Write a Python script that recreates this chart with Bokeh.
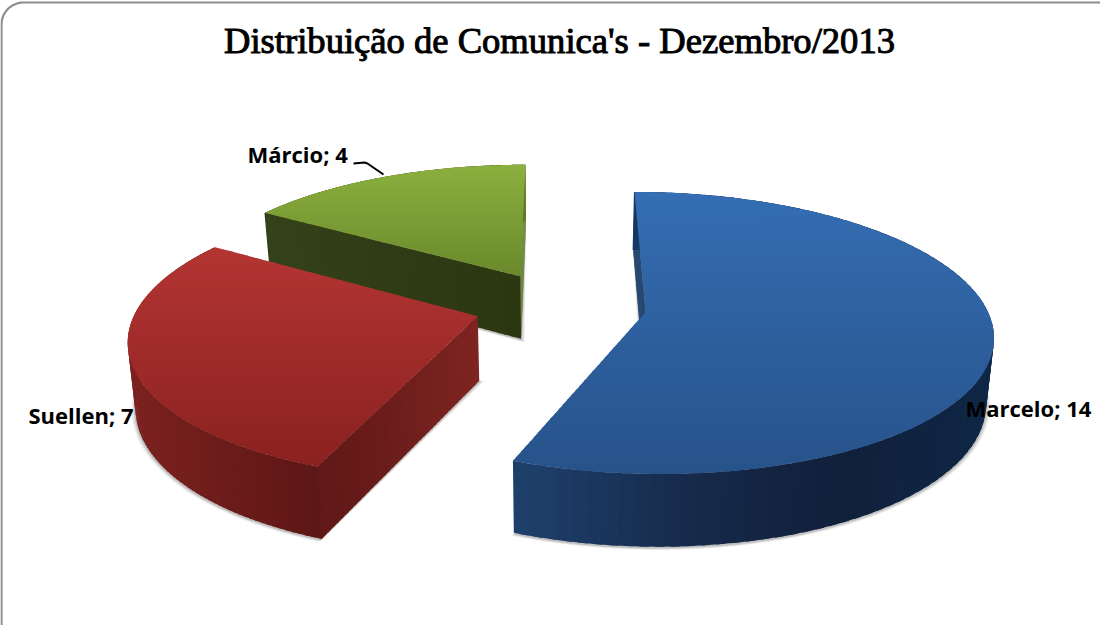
import math
from bokeh.plotting import figure
from bokeh.models import ColumnDataSource, Range1d
from bokeh.core.properties import value
from bokeh.embed import file_html
from bokeh.resources import INLINE

# ---- data ----
categories = ["Marcelo", "Suellen", "Márcio"]
counts = [14, 7, 4]
title_text = "Distribuição de Comunica's - Dezembro/2013"

# ---- style ----
top_colors = [("#346EB3", "#27528A"), ("#B33533", "#8A2120"), ("#8CB03F", "#6A892C")]
rim_stops = [
    [(519, "#1E406C"), (700, "#16294A"), (850, "#10203A"), (1000, "#0F2746")],
    [(135, "#7C211F"), (325, "#5C1716")],
    [(273, "#34411A"), (530, "#2B3710")],
]
# for each slice: which cut faces can be seen, with colours from apex to rim
face_specs = [
    [(0, "#173A66", "#173A66")],
    [(0, "#7E2421", "#5F1917")],
    [(1, "#5E7A2A", "#6E8F30"), (0, "#2B3710", "#34411A")],
]
corner_colors = ["#173A66", "#5E1817", "#34411A"]
label_anchor = [(973, 415), (36, 422), (255, 161)]
leader_x = [361, 372, 375, 391]
leader_y = [171, 170, 171, 182]

# ---- 3-D projection ----
XC, YC = 568, 313
R, EXPL, K, D, H, LOW = 340, 86, 0.40, 2300, 64, 0.982


def proj(u, v, low=False):
    w = 1 - v / D
    f = LOW if low else 1
    y = YC + K * v / w * f + (H / w if low else 0)
    return XC + u / w * f, y


def mix(c1, c2, t):
    t = max(0, min(1, t))
    a = [int(c1[i:i + 2], 16) for i in (1, 3, 5)]
    b = [int(c2[i:i + 2], 16) for i in (1, 3, 5)]
    return "#%02x%02x%02x" % tuple(round(a[i] + (b[i] - a[i]) * t) for i in range(3))


def ramp(stops, x):
    if x <= stops[0][0]:
        return stops[0][1]
    for (x0, c0), (x1, c1) in zip(stops, stops[1:]):
        if x <= x1:
            return mix(c0, c1, (x - x0) / (x1 - x0))
    return stops[-1][1]


def clip(poly, y0, y1):
    def half(pts, keep, yb):
        out = []
        for i, a in enumerate(pts):
            b = pts[(i + 1) % len(pts)]
            if keep(a[1]):
                out.append(a)
            if keep(a[1]) != keep(b[1]):
                t = (yb - a[1]) / (b[1] - a[1])
                out.append((a[0] + (b[0] - a[0]) * t, yb))
        return out
    p = half(poly, lambda y: y >= y0, y0)
    return half(p, lambda y: y <= y1, y1) if p else []


p = figure(width=1100, height=625, x_range=Range1d(8, 1108), y_range=Range1d(633, 8),
           output_backend="svg", toolbar_location=None, min_border=0,
           background_fill_color="white", border_fill_color="white")
p.axis.visible = False
p.grid.visible = False
p.outline_line_color = None

# frame, running off the right and bottom of the page
rad, fl, ft, fr, fb = 22, 9, 10, 1128, 655
fx, fy = [], []
for cx, cy, a0 in [(fl + rad, ft + rad, 180), (fr - rad, ft + rad, 270), (fr - rad, fb - rad, 0), (fl + rad, fb - rad, 90)]:
    for j in range(13):
        a = math.radians(a0 + j * 7.5)
        fx.append(cx + rad * math.cos(a))
        fy.append(cy + rad * math.sin(a))
p.patch(fx + fx[:1], fy + fy[:1], fill_color="white", line_color="#8E8E8E", line_width=2.2)

# geometry of each slice, clockwise from the top
total = sum(counts)
angles = [0]
for c in counts:
    angles.append(angles[-1] + 360 * c / total)


def rim_pt(ax, ay, deg, r=R):
    a = math.radians(deg)
    return ax + r * math.sin(a), ay - r * math.cos(a)


def slice_geom(i):
    a0, a1 = angles[i], angles[i + 1]
    mid = math.radians((a0 + a1) / 2)
    return a0, a1, mid, EXPL * math.sin(mid), -EXPL * math.cos(mid)


# soft shadows of the bottom plates
for d, alpha in [(4, 0.06), (2.5, 0.09), (1.2, 0.12)]:
    for i in [2, 1, 0]:
        a0, a1, mid, ax, ay = slice_geom(i)
        back = d / math.sin(math.radians((a1 - a0) / 2))
        sax, say = ax - back * math.sin(mid), ay + back * math.cos(mid)
        pts = [proj(sax, say, True)]
        n = 80
        for j in range(n + 1):
            pts.append(proj(*rim_pt(ax, ay, a0 + (a1 - a0) * j / n, R + d), True))
        p.patch([q[0] for q in pts], [q[1] + 1 for q in pts], fill_color="#000000",
                fill_alpha=alpha, line_color=None)

# slices, back to front
for i in [2, 1, 0]:
    a0, a1, mid, ax, ay = slice_geom(i)
    xs, ys, cols = [], [], []

    # outer rim: each piece overlaps the next so that no seam shows
    n = 90
    for j in range(n):
        t0 = a0 + (a1 - a0) * j / n
        t1 = a0 + (a1 - a0) * min(n, j + 1.6) / n
        A, B = rim_pt(ax, ay, t0), rim_pt(ax, ay, t1)
        q = [proj(*A), proj(*B), proj(*B, True), proj(*A, True)]
        xs.append([c[0] for c in q])
        ys.append([c[1] for c in q])
        cols.append(ramp(rim_stops[i], (q[0][0] + q[1][0]) / 2))
    p.patches(xs, ys, fill_color=cols, line_color=None)

    # visible cut faces
    xs, ys, cols = [], [], []
    for which, c0, c1 in face_specs[i]:
        deg = a1 if which else a0
        m = 40
        for j in range(m):
            r0, r1 = R * j / m, R * min(m, j + 1.6) / m
            A, B = rim_pt(ax, ay, deg, r0), rim_pt(ax, ay, deg, r1)
            q = [proj(*A), proj(*B), proj(*B, True), proj(*A, True)]
            xs.append([c[0] for c in q])
            ys.append([c[1] for c in q])
            cols.append(mix(c0, c1, j / m))
    p.patches(xs, ys, fill_color=cols, line_color=None)

    # the corner where rim and cut face meet
    C = rim_pt(ax, ay, a0)
    c_top, c_low = proj(*C), proj(*C, True)
    p.line([c_top[0], c_low[0]], [c_top[1], c_low[1]], line_color=corner_colors[i], line_width=1.2)

    # top surface, shaded from top to bottom in overlapping bands
    poly = [proj(ax, ay)]
    n = 160
    for j in range(n + 1):
        poly.append(proj(*rim_pt(ax, ay, a0 + (a1 - a0) * j / n)))
    ymin, ymax = min(q[1] for q in poly), max(q[1] for q in poly)
    bands = 60
    step = (ymax - ymin) / bands
    xs, ys, cols = [], [], []
    for b in range(bands):
        cp = clip(poly, ymin + step * b, ymin + step * (b + 1) + 1.5)
        if len(cp) >= 3:
            xs.append([q[0] for q in cp])
            ys.append([q[1] for q in cp])
            cols.append(mix(top_colors[i][0], top_colors[i][1], (b + 0.5) / bands))
    p.patches(xs, ys, fill_color=cols, line_color=None)

# leader
p.line(leader_x, leader_y, line_color="black", line_width=2)

# texts
p.text([567], [48], text=[title_text], text_font=value("Liberation Serif"), text_font_size="36.6px",
       text_color="#000000", text_outline_color="#000000", text_align="center", text_baseline="middle")
labels = [f"{c}; {v}" for c, v in zip(categories, counts)]
src = ColumnDataSource(dict(x=[a[0] for a in label_anchor], y=[a[1] for a in label_anchor], t=labels))
p.text("x", "y", text="t", source=src, text_font=value("Open Sans"), text_font_size="22px",
       text_font_style="bold", text_color="black", text_align="left", text_baseline="middle")

open("out.html", "w").write(file_html(p, INLINE))
